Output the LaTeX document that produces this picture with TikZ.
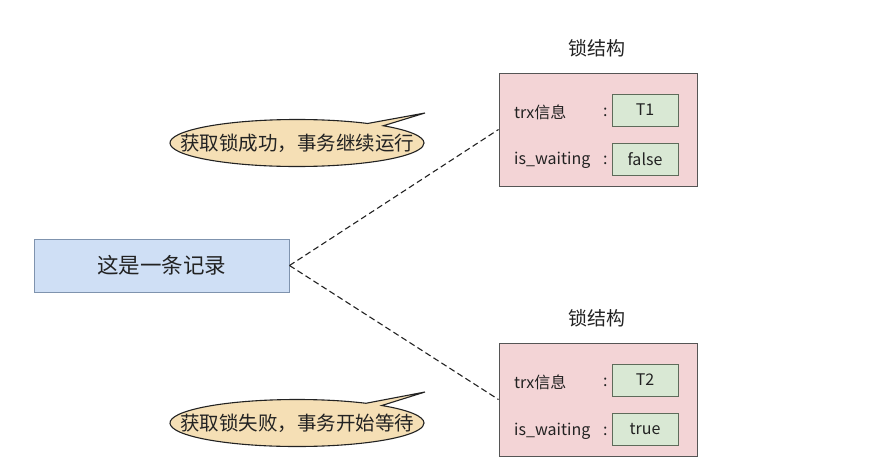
\documentclass[tikz,border=0pt]{standalone}
\usepackage{fontspec}
\setmainfont{Noto Sans CJK SC}
\usetikzlibrary{positioning,shapes.geometric,shapes.callouts}
\definecolor{recfill}{HTML}{CFDFF5}
\definecolor{recline}{HTML}{7F93AE}
\definecolor{lockfill}{HTML}{F3D4D6}
\definecolor{lockline}{HTML}{555555}
\definecolor{valfill}{HTML}{D9E8D4}
\definecolor{valline}{HTML}{5E6B5A}
\definecolor{tipfill}{HTML}{F5DFB5}
\definecolor{ink}{HTML}{222222}
\tikzset{
  rec/.style={rectangle,draw=recline,fill=recfill,line width=1pt,
    minimum width=255pt,minimum height=53pt,font=\fontsize{21.5}{25}\selectfont,text=ink},
  lockbox/.style={rectangle,draw=lockline,fill=lockfill,line width=1pt,
    minimum width=198pt,minimum height=113pt},
  ttl/.style={font=\fontsize{19}{22}\selectfont,text=ink},
  fld/.style={font=\fontsize{16}{19}\selectfont,text=ink,anchor=west,inner sep=0pt},
  val/.style={rectangle,draw=valline,fill=valfill,line width=0.8pt,
    minimum width=66pt,minimum height=32pt,font=\fontsize{16}{19}\selectfont,text=ink},
  tip/.style={ellipse callout,draw=ink,fill=tipfill,line width=1.1pt,
    callout pointer arc=9,minimum width=254pt,minimum height=47pt,inner sep=0pt},
  tiptxt/.style={font=\fontsize{19.5}{23}\selectfont,text=ink,inner sep=0pt},
  link/.style={dash pattern=on 6pt off 3.5pt,line width=1.1pt,draw=ink},
}
\begin{document}
\begin{tikzpicture}[x=1pt,y=-1pt]
  \useasboundingbox (0,0) rectangle (869,471);
  % the record
  \node[rec] (rec) at (161.5,265.5) {这是一条记录};
  % first lock
  \node[lockbox] (lk1) at (598,129.5) {};
  \node[ttl] (t1) at (597,48) {锁结构};
  \node[fld] (trx1) at (514,112) {trx信息};
  \node[fld] (c1a) at (603,112) {:};
  \node[val] (v1a) at (645,110) {T1};
  \node[fld] (wt1) at (514,160) {is\_waiting};
  \node[fld] (c1b) at (603,160) {:};
  \node[val] (v1b) at (645,159) {false};
  % second lock
  \node[lockbox] (lk2) at (598,399.5) {};
  \node[ttl] (t2) at (597,318) {锁结构};
  \node[fld] (trx2) at (514,382) {trx信息};
  \node[fld] (c2a) at (603,382) {:};
  \node[val] (v2a) at (645,380) {T2};
  \node[fld] (wt2) at (514,431) {is\_waiting};
  \node[fld] (c2b) at (603,431) {:};
  \node[val] (v2b) at (645,429) {true};
  % links
  \draw[link] (rec.east) -- (lk1.west);
  \draw[link] (rec.east) -- (lk2.west);
  % speech bubbles
  \node[tip,callout absolute pointer={(425,113)}] (ok) at (297,143) {};
  \node[tiptxt] (oktxt) at (ok.center) {获取锁成功，事务继续运行};
  \node[tip,callout absolute pointer={(425,392)}] (wait) at (297,423) {};
  \node[tiptxt] (waittxt) at (wait.center) {获取锁失败，事务开始等待};
\end{tikzpicture}
\end{document}
